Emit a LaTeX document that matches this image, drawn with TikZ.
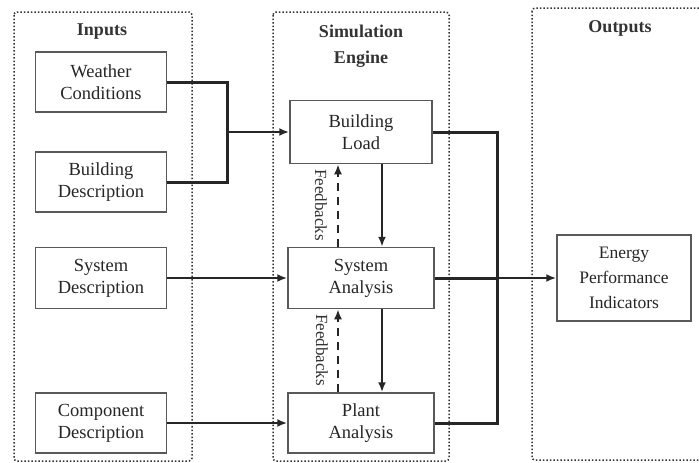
\documentclass[tikz,border=0pt]{standalone}
\usepackage{fontspec}
\setmainfont{Liberation Serif}
\usetikzlibrary{arrows.meta}
\begin{document}
\begin{tikzpicture}[x=1pt,y=-1pt,
  blk/.style={draw=black!65,line width=1.5pt,align=center,font=\fontsize{18.5}{22}\selectfont,inner sep=0pt,text=black!85},
  grp/.style={draw=black!80,dotted,line width=1.5pt,rounded corners=3pt},
  ttl/.style={font=\bfseries\fontsize{18}{26}\selectfont,align=center,text=black!80},
  bus/.style={line width=3pt,black!85},
  arr/.style={line width=2pt,black!85,-{Latex[length=10pt,width=8pt]}},
  fb/.style={line width=2pt,black!85,dash pattern=on 8pt off 6pt,-{Latex[length=10pt,width=8pt]}},
  fbl/.style={rotate=-90,font=\fontsize{17}{18}\selectfont,text=black!80}]
\useasboundingbox (0,0) rectangle (699,463);
% groups
\draw[grp] (14,12) rectangle (192,461);
\draw[grp] (273,12) rectangle (449,461);
\draw[grp] (532,8) rectangle (706,460);
\node[ttl] (tin) at (102,32) {Inputs};
\node[ttl] (tsim) at (361,46) {Simulation\\Engine};
\node[ttl] (tout) at (620,28) {Outputs};
% input blocks
\node[blk,minimum width=131,minimum height=60] (wc) at (101,82) {Weather\\Conditions};
\node[blk,minimum width=131,minimum height=60] (bd) at (101,182) {Building\\Description};
\node[blk,minimum width=131,minimum height=61] (sd) at (101,278) {System\\Description};
\node[blk,minimum width=131,minimum height=60] (cd) at (101,423) {Component\\Description};
% engine blocks
\node[blk,minimum width=142,minimum height=63] (bl) at (361,132) {Building\\Load};
\node[blk,minimum width=146,minimum height=61] (sa) at (361,278) {System\\Analysis};
\node[blk,minimum width=146,minimum height=60] (pa) at (361,423) {Plant\\Analysis};
% output
\node[blk,minimum width=134,minimum height=86,font=\fontsize{17.5}{25}\selectfont] (ep) at (624,278) {Energy\\Performance\\Indicators};
% coordinates
\coordinate (j1) at (227,132);
\coordinate (j2) at (497,278);
% input bus
\draw[bus] (wc.east) -| (j1) |- (bd.east);
\draw[arr] (j1) -- (bl.west);
\draw[arr] (sd.east) -- (sa.west);
\draw[arr] (cd.east) -- (pa.west);
% output bus
\draw[bus] (bl.east) -| (j2) |- (pa.east);
\draw[bus] (sa.east) -- (j2);
\draw[arr] (j2) -- (ep.west);
% vertical arrows
\draw[arr] (bl.south -| 382,0) -- (sa.north -| 382,0);
\draw[arr] (sa.south -| 382,0) -- (pa.north -| 382,0);
\draw[fb] (sa.north -| 338,0) -- (bl.south -| 338,0);
\draw[fb] (pa.north -| 338,0) -- (sa.south -| 338,0);
\node[fbl] (f1) at (321,205) {Feedbacks};
\node[fbl] (f2) at (322,350) {Feedbacks};
\end{tikzpicture}
\end{document}
